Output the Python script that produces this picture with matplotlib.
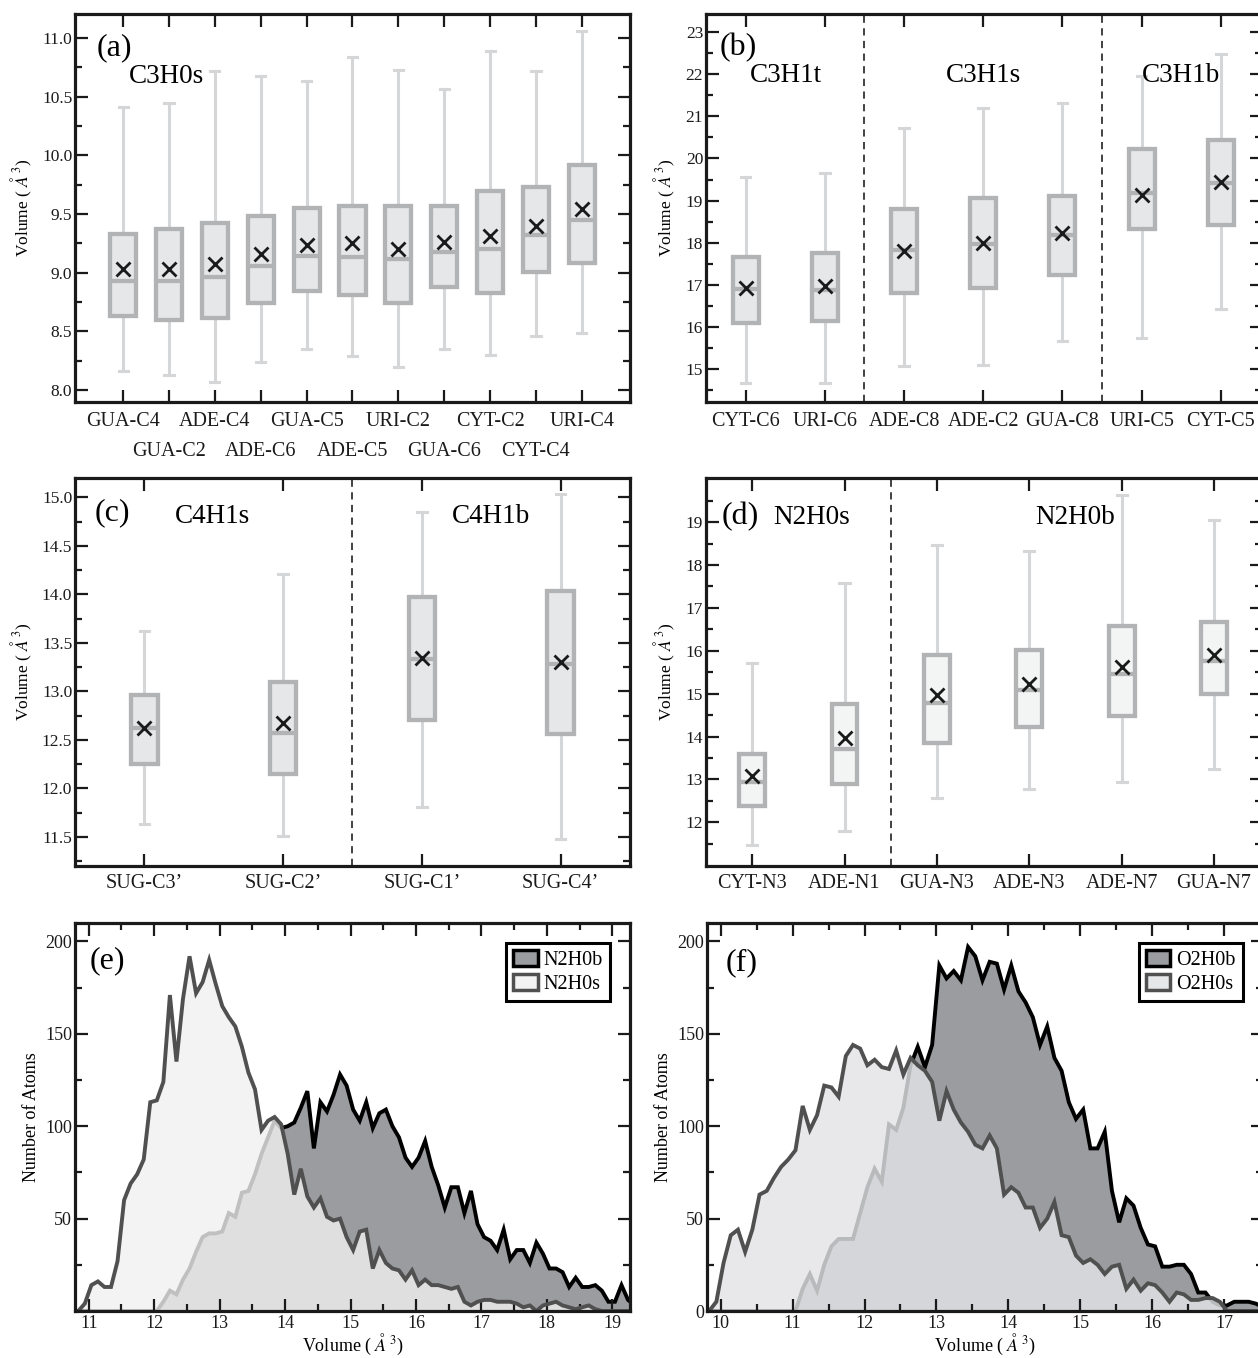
import numpy as np
import matplotlib
matplotlib.use("Agg")
import matplotlib.pyplot as plt
from matplotlib.ticker import MultipleLocator, FixedLocator, NullLocator, FormatStrFormatter, FuncFormatter
from matplotlib.patches import Patch

plt.rcParams['font.family'] = ['Liberation Serif', 'DejaVu Serif']
plt.rcParams['mathtext.fontset'] = 'stix'

# ---------------- data: panel (a) ----------------
a_labels = ["GUA-C4", "GUA-C2", "ADE-C4", "ADE-C6", "GUA-C5", "ADE-C5",
            "URI-C2", "GUA-C6", "CYT-C2", "CYT-C4", "URI-C4"]
a_whislo = [8.16, 8.13, 8.07, 8.24, 8.35, 8.29, 8.20, 8.35, 8.30, 8.46, 8.49]
a_q1 = [8.63, 8.60, 8.61, 8.74, 8.84, 8.81, 8.74, 8.88, 8.83, 9.01, 9.08]
a_med = [8.93, 8.93, 8.96, 9.06, 9.14, 9.13, 9.12, 9.18, 9.20, 9.32, 9.45]
a_q3 = [9.33, 9.37, 9.42, 9.48, 9.55, 9.57, 9.57, 9.57, 9.70, 9.73, 9.92]
a_whishi = [10.41, 10.45, 10.72, 10.68, 10.63, 10.84, 10.73, 10.57, 10.89, 10.72, 11.06]
a_mean = [9.03, 9.03, 9.07, 9.16, 9.24, 9.25, 9.20, 9.26, 9.31, 9.40, 9.54]

# ---------------- panel (b) ----------------
b_labels = ["CYT-C6", "URI-C6", "ADE-C8", "ADE-C2", "GUA-C8", "URI-C5", "CYT-C5"]
b_whislo = [14.68, 14.66, 15.08, 15.11, 15.66, 15.74, 16.42]
b_q1 = [16.10, 16.14, 16.80, 16.93, 17.23, 18.33, 18.41]
b_med = [16.91, 16.87, 17.82, 17.98, 18.18, 19.17, 19.42]
b_q3 = [17.66, 17.76, 18.79, 19.07, 19.11, 20.23, 20.43]
b_whishi = [19.55, 19.66, 20.72, 21.21, 21.32, 21.95, 22.49]
b_mean = [16.92, 16.98, 17.81, 18.00, 18.22, 19.14, 19.44]
b_groups = ["C3H1t", "C3H1s", "C3H1b"]

# ---------------- panel (c) ----------------
c_labels = ["SUG-C3\u2019", "SUG-C2\u2019", "SUG-C1\u2019", "SUG-C4\u2019"]
c_whislo = [11.63, 11.51, 11.81, 11.48]
c_q1 = [12.25, 12.15, 12.71, 12.56]
c_med = [12.62, 12.57, 13.33, 13.28]
c_q3 = [12.96, 13.10, 13.97, 14.04]
c_whishi = [13.62, 14.21, 14.85, 15.03]
c_mean = [12.62, 12.67, 13.34, 13.30]
c_groups = ["C4H1s", "C4H1b"]

# ---------------- panel (d) ----------------
d_labels = ["CYT-N3", "ADE-N1", "GUA-N3", "ADE-N3", "ADE-N7", "GUA-N7"]
d_whislo = [11.46, 11.79, 12.57, 12.78, 12.94, 13.24]
d_q1 = [12.39, 12.90, 13.86, 14.23, 14.49, 14.99]
d_med = [12.93, 13.71, 14.78, 15.09, 15.47, 15.76]
d_q3 = [13.59, 14.77, 15.89, 16.01, 16.58, 16.67]
d_whishi = [15.71, 17.57, 18.47, 18.33, 19.64, 19.04]
d_mean = [13.09, 13.96, 14.97, 15.22, 15.63, 15.90]
d_groups = ["N2H0s", "N2H0b"]

# ---------------- panel (e): histograms, bins of 0.1 starting at 10.84 ----------------
e_start = 10.84
e_bin = 0.1
e_n2h0s = [0, 4, 14, 16, 13, 13, 27, 60, 69, 74, 82, 113, 114, 124, 171, 135, 169, 192,
           172, 178, 190, 177, 165, 159, 154, 143, 129, 120, 98, 103, 105, 101, 85, 63,
           77, 62, 56, 61, 51, 49, 50, 40, 33, 43, 44, 23, 33, 26, 23, 22, 17, 22, 14,
           17, 14, 14, 13, 12, 13, 5, 3, 5, 6, 6, 5, 5, 5, 4, 2, 3, 0, 3, 4, 5, 3, 2,
           1, 2, 3, 1, 0, 0, 0, 0, 0, 0]
e_n2h0b = [0, 0, 0, 0, 0, 0, 0, 0, 0, 0, 0, 0, 0, 5, 11, 9, 17, 23, 32, 40, 42, 42,
           43, 53, 51, 64, 65, 74, 85, 94, 103, 99, 100, 102, 110, 119, 88, 113, 108,
           117, 128, 122, 109, 103, 113, 99, 107, 109, 100, 94, 83, 78, 83, 92, 78, 68,
           56, 67, 67, 53, 65, 47, 40, 38, 33, 44, 28, 33, 33, 26, 37, 31, 23, 23, 21,
           13, 18, 13, 13, 14, 11, 5, 5, 14, 6, 3]

# ---------------- panel (f): histograms, bins of 0.1 starting at 9.84 ----------------
f_start = 9.84
f_bin = 0.1
f_o2h0s = [0, 5, 26, 41, 44, 32, 44, 63, 65, 72, 78, 82, 87, 111, 98, 106, 122, 121,
           116, 138, 144, 142, 133, 136, 132, 131, 141, 128, 137, 133, 130, 124, 103,
           119, 109, 102, 97, 90, 88, 95, 88, 63, 67, 64, 56, 56, 45, 50, 59, 41, 40,
           30, 26, 28, 25, 20, 24, 25, 12, 17, 11, 15, 14, 10, 5, 10, 9, 6, 6, 7, 7, 5,
           0, 0, 0, 0, 0, 0, 0]
f_o2h0b = [0, 0, 0, 0, 0, 0, 0, 0, 0, 0, 0, 0, 0, 12, 20, 11, 25, 35, 39, 39, 39, 53,
           67, 77, 70, 101, 98, 110, 133, 143, 132, 144, 187, 180, 184, 179, 197, 192,
           179, 189, 188, 174, 187, 173, 167, 159, 144, 154, 137, 130, 113, 104, 109,
           88, 88, 97, 65, 48, 61, 57, 45, 36, 35, 24, 24, 25, 25, 20, 10, 10, 5, 3, 3,
           5, 5, 5, 4, 2, 1]

# ---------------- styling ----------------
W, H = 1258, 1358
fig = plt.figure(figsize=(W / 100, H / 100), dpi=100)

BOX_EDGE = '#b2b3b5'
WHISK = '#d5d6d7'
INK = '#1a1a1a'
DARK_FILL = '#9b9c9f'


def px_axes(x0, y0, x1, y1):
    return fig.add_axes([x0 / W, 1 - y1 / H, (x1 - x0) / W, (y1 - y0) / H])


def style(ax, ysize=12.5, xsize=14.5, xpad=6):
    for s in ax.spines.values():
        s.set_linewidth(2.3)
        s.set_color(INK)
        s.set_zorder(10)
    ax.tick_params(which='both', direction='in', top=True, right=True, color=INK,
                   labelcolor=INK)
    ax.tick_params(which='major', length=9, width=1.6)
    ax.tick_params(which='minor', length=5, width=1.6)
    ax.tick_params(axis='y', labelsize=ysize, pad=2)
    ax.tick_params(axis='x', labelsize=xsize, pad=xpad)


def boxes(ax, lo, q1, med, q3, hi, mean, width, cap, fill):
    stats = [dict(whislo=a, q1=b, med=c, q3=d, whishi=e, mean=f, fliers=[])
             for a, b, c, d, e, f in zip(lo, q1, med, q3, hi, mean)]
    n = len(stats)
    ax.bxp(stats, positions=list(range(n)), widths=width, capwidths=cap,
           patch_artist=True, showmeans=True, showfliers=False, manage_ticks=False,
           boxprops=dict(facecolor=fill, edgecolor=BOX_EDGE, linewidth=3.1,
                         joinstyle='miter', zorder=3),
           medianprops=dict(color=BOX_EDGE, linewidth=3.1, solid_capstyle='butt', zorder=4),
           whiskerprops=dict(color=WHISK, linewidth=2.2, zorder=2),
           capprops=dict(color=WHISK, linewidth=2.2, zorder=2),
           meanprops=dict(marker='x', markeredgecolor=INK, markerfacecolor=INK,
                          markersize=10, markeredgewidth=2.0, zorder=5))
    ax.set_xticks(range(n))
    ax.xaxis.set_minor_locator(NullLocator())


ylab = r"Volume ( $\mathit{Å}^{3}$)"
LEFT = (75, 630)
RIGHT = (706, 1262)
ROW1 = (14, 402)
ROW2 = (478, 866)
ROW3 = (923, 1311)

# ---------------- (a) ----------------
ax = px_axes(LEFT[0], ROW1[0], LEFT[1], ROW1[1])
style(ax, xpad=7)
boxes(ax, a_whislo, a_q1, a_med, a_q3, a_whishi, a_mean, 0.57, 0.2, '#e6e7e9')
ax.set_xlim(-1.05, 11.05)
ax.set_ylim(7.898, 11.205)
ax.yaxis.set_major_locator(MultipleLocator(0.5))
ax.yaxis.set_minor_locator(MultipleLocator(0.25))
ax.yaxis.set_major_formatter(FormatStrFormatter('%.1f'))
even = list(range(0, len(a_labels), 2))
odd = list(range(1, len(a_labels), 2))
ax.set_xticks(even, [a_labels[i] for i in even])
ax.set_xticks(odd, [a_labels[i] for i in odd], minor=True)
ax.tick_params(axis='x', which='minor', length=9, width=1.6, labelsize=14.5, pad=29)
ax.set_ylabel(ylab, fontsize=12.5, labelpad=6)
ax.text(-0.2, 10.92, "(a)", fontsize=23, ha='center', va='center')
ax.text(0.95, 10.67, "C3H0s", fontsize=19.5, ha='center', va='center')

# ---------------- (b) ----------------
ax = px_axes(RIGHT[0], ROW1[0], RIGHT[1], ROW1[1])
style(ax, xpad=7)
boxes(ax, b_whislo, b_q1, b_med, b_q3, b_whishi, b_mean, 0.33, 0.12, '#e6e7e9')
ax.set_xlim(-0.5, 6.52)
ax.set_ylim(14.22, 23.43)
ax.yaxis.set_major_locator(MultipleLocator(1))
ax.yaxis.set_minor_locator(MultipleLocator(0.5))
ax.set_xticklabels(b_labels)
ax.set_ylabel(ylab, fontsize=12.5, labelpad=6)
for xv in (1.5, 4.5):
    ax.axvline(xv, color='#333333', lw=1.3, ls=(0, (4, 3)), zorder=1)
ax.text(-0.09, 22.64, "(b)", fontsize=23, ha='center', va='center')
for xg, g in zip((0.51, 3.0, 5.5), b_groups):
    ax.text(xg, 21.97, g, fontsize=19.5, ha='center', va='center')

# ---------------- (c) ----------------
ax = px_axes(LEFT[0], ROW2[0], LEFT[1], ROW2[1])
style(ax)
boxes(ax, c_whislo, c_q1, c_med, c_q3, c_whishi, c_mean, 0.19, 0.07, '#e6e7e9')
ax.set_xlim(-0.5, 3.5)
ax.set_ylim(11.2, 15.2)
ax.yaxis.set_major_locator(MultipleLocator(0.5))
ax.yaxis.set_minor_locator(MultipleLocator(0.25))
ax.yaxis.set_major_formatter(FormatStrFormatter('%.1f'))
ax.set_xticklabels(c_labels)
ax.set_ylabel(ylab, fontsize=12.5, labelpad=6)
ax.axvline(1.5, color='#333333', lw=1.3, ls=(0, (4, 3)), zorder=1)
ax.text(-0.23, 14.84, "(c)", fontsize=23, ha='center', va='center')
for xg, g in zip((0.49, 2.5), c_groups):
    ax.text(xg, 14.80, g, fontsize=19.5, ha='center', va='center')

# ---------------- (d) ----------------
ax = px_axes(RIGHT[0], ROW2[0], RIGHT[1], ROW2[1])
style(ax)
boxes(ax, d_whislo, d_q1, d_med, d_q3, d_whishi, d_mean, 0.28, 0.11, '#f3f4f4')
ax.set_xlim(-0.5, 5.52)
ax.set_ylim(10.98, 20.03)
ax.yaxis.set_major_locator(FixedLocator(list(range(12, 20))))
ax.yaxis.set_minor_locator(FixedLocator([v + 0.5 for v in range(11, 20)]))
ax.set_xticklabels(d_labels)
ax.set_ylabel(ylab, fontsize=12.5, labelpad=6)
ax.axvline(1.5, color='#333333', lw=1.3, ls=(0, (4, 3)), zorder=1)
ax.text(-0.13, 19.12, "(d)", fontsize=23, ha='center', va='center')
for xg, g in zip((0.64, 3.5), d_groups):
    ax.text(xg, 19.12, g, fontsize=19.5, ha='center', va='center')


# ---------------- histograms ----------------
def hist_panel(ax, start, step, big, small, light_fill, light_alpha, names, legend_light):
    x = start + step * np.arange(len(big))
    xs = start + step * np.arange(len(small))
    ax.fill_between(x, big, 0, color=DARK_FILL, lw=0, zorder=1.0)
    ax.plot(x, big, color='black', lw=2.8, solid_joinstyle='miter', zorder=1.2)
    ax.fill_between(xs, small, 0, color=light_fill, alpha=light_alpha, lw=0, zorder=1.4)
    ax.plot(xs, small, color='#505050', lw=2.8, solid_joinstyle='miter', zorder=1.6)
    ax.set_ylim(0, 210)
    ax.yaxis.set_major_locator(MultipleLocator(50))
    ax.yaxis.set_minor_locator(MultipleLocator(25))
    ax.xaxis.set_major_locator(MultipleLocator(1))
    ax.xaxis.set_minor_locator(MultipleLocator(0.5))
    ax.set_ylabel("Number of Atoms", fontsize=13, labelpad=4)
    ax.set_xlabel(ylab, fontsize=13, labelpad=0)
    handles = [Patch(facecolor=DARK_FILL, edgecolor='black', lw=2.5, label=names[0]),
               Patch(facecolor=legend_light, edgecolor='#505050', lw=2.5, label=names[1])]
    leg = ax.legend(handles=handles, loc='upper right', fontsize=14.5, frameon=True,
                    fancybox=False, edgecolor='black', framealpha=1,
                    handlelength=1.2, handleheight=0.85, handletextpad=0.3,
                    borderpad=0.35, labelspacing=0.2, borderaxespad=1.0)
    leg.get_frame().set_linewidth(2.2)
    leg.set_zorder(20)


ax = px_axes(LEFT[0], ROW3[0], LEFT[1], ROW3[1])
style(ax, ysize=13, xsize=13, xpad=3)
hist_panel(ax, e_start, e_bin, e_n2h0b, e_n2h0s, '#f1f1f1', 0.8, ("N2H0b", "N2H0s"), '#f3f3f3')
ax.set_xlim(10.79, 19.27)
ax.yaxis.set_major_formatter(FuncFormatter(lambda v, p: '' if v == 0 else '%d' % v))
ax.text(11.28, 189.7, "(e)", fontsize=23, ha='center', va='center')

ax = px_axes(RIGHT[0] + 1, ROW3[0], RIGHT[1] + 1, ROW3[1])
style(ax, ysize=13, xsize=13, xpad=3)
hist_panel(ax, f_start, f_bin, f_o2h0b, f_o2h0s, '#e3e4e6', 0.82, ("O2H0b", "O2H0s"), '#e6e7e9')
ax.set_xlim(9.81, 17.54)
ax.yaxis.set_major_formatter(FuncFormatter(lambda v, p: '%d' % v))
ax.text(10.29, 188.7, "(f)", fontsize=23, ha='center', va='center')

fig.savefig("out.png", dpi=100)
